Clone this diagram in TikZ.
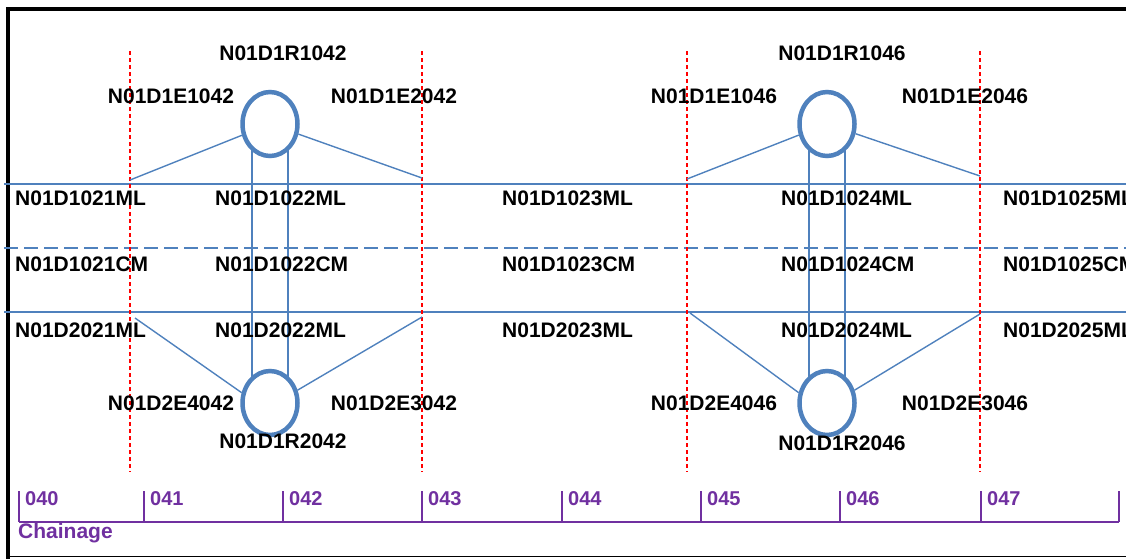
\documentclass[tikz,border=0pt]{standalone}
\usepackage{fontspec}
\setmainfont{Liberation Sans}
\usetikzlibrary{shapes.geometric,calc}
\definecolor{lblue}{RGB}{79,129,189}
\definecolor{cpurple}{RGB}{112,48,160}
\begin{document}
\begin{tikzpicture}[x=1pt,y=-1pt,
  lbl/.style={font=\fontsize{21}{24}\selectfont\bfseries, inner sep=0pt},
  rowlbl/.style={lbl, anchor=west},
  ring/.style={ellipse, draw=lblue, line width=4.5pt, fill=white, minimum width=55pt, minimum height=64pt, inner sep=0pt},
  wire/.style={lblue, line width=1.4pt},
  cmwire/.style={lblue, line width=1.4pt, dash pattern=on 14pt off 6pt},
  sect/.style={red, line width=1.3pt, dash pattern=on 4pt off 3pt},
  chain/.style={cpurple, line width=2.2pt},
  chlbl/.style={font=\fontsize{20}{24}\selectfont\bfseries, text=cpurple, inner sep=0pt, anchor=west},
  frameline/.style={black, line width=4pt}
]
\useasboundingbox (0,0) rectangle (1126,558);
\begin{scope}
\clip (0,0) rectangle (1126,558);

% frame
\draw[frameline] (1130,9) -- (8,9) -- (8,560);
\draw[black, line width=1.5pt] (8,556.5) -- (1130,556.5);

% coordinates for lines
\coordinate (h1l) at (4,184);  \coordinate (h1r) at (1130,184);
\coordinate (h2l) at (4,248);  \coordinate (h2r) at (1130,248);
\coordinate (h3l) at (4,312);  \coordinate (h3r) at (1130,312);

\foreach \i/\x in {1/130,2/422,3/687,4/980}{
  \coordinate (s\i t) at (\x,51);
  \coordinate (s\i b) at (\x,472);
}

% main lines
\draw[wire] (h1l) -- (h1r);
\draw[cmwire] (h2l) -- (h2r);
\draw[wire] (h3l) -- (h3r);

% vertical links between rings (behind rings)
\foreach \cx in {270,827}{
  \draw[wire] (\cx-18,124) -- (\cx-18,403);
  \draw[wire] (\cx+18,124) -- (\cx+18,403);
}

% rings
\node[ring] (r1) at (270,124) {};
\node[ring] (r2) at (270,403) {};
\node[ring] (r3) at (827,124) {};
\node[ring] (r4) at (827,403) {};

% section red lines
\foreach \i in {1,2,3,4}{
  \draw[sect] (s\i t) -- (s\i b);
}

% diagonal connectors
\coordinate (a1) at (130,180);
\coordinate (a2) at (422,178);
\coordinate (a3) at (135,318);
\coordinate (a4) at (422,317);
\coordinate (b1) at (687,179);
\coordinate (b2) at (980,176);
\coordinate (b3) at (690,313);
\coordinate (b4) at (980,314);
\draw[wire] (r1) -- (a1);
\draw[wire] (r1) -- (a2);
\draw[wire] (r2.160) -- (a3);
\draw[wire] (r2.25) -- (a4);
\draw[wire] (r3) -- (b1);
\draw[wire] (r3) -- (b2);
\draw[wire] (r4.160) -- (b3);
\draw[wire] (r4.25) -- (b4);

% ring labels
\node[lbl] (t1) at (283,53) {N01D1R1042};
\node[lbl] (t2) at (171,96) {N01D1E1042};
\node[lbl] (t3) at (394,96) {N01D1E2042};
\node[lbl] (t4) at (171,403) {N01D2E4042};
\node[lbl] (t5) at (394,403) {N01D2E3042};
\node[lbl] (t6) at (283,441) {N01D1R2042};
\node[lbl] (u1) at (842,53) {N01D1R1046};
\node[lbl] (u2) at (714,96) {N01D1E1046};
\node[lbl] (u3) at (965,96) {N01D1E2046};
\node[lbl] (u4) at (714,403) {N01D2E4046};
\node[lbl] (u5) at (965,403) {N01D2E3046};
\node[lbl] (u6) at (842,443) {N01D1R2046};

% row labels
\foreach \n/\x in {1/15,2/215,3/502,4/781,5/1003}{
  \node[rowlbl] (ml\n) at (\x,198) {N01D102\n ML};
  \node[rowlbl] (cm\n) at (\x,264) {N01D102\n CM};
  \node[rowlbl] (ml2\n) at (\x,330) {N01D202\n ML};
}

% chainage axis
\coordinate (c0) at (19,522);
\coordinate (c8) at (1119,522);
\draw[chain] (c0) -- (c8);
\foreach \tx in {19,144,283,422,562,701,840,981,1119}{
  \draw[chain] (\tx,491) -- (\tx,522);
}
\foreach \k/\tx/\lab in {0/19/040,1/144/041,2/283/042,3/422/043,4/562/044,5/701/045,6/840/046,7/981/047}{
  \node[chlbl] (ch\k) at (\tx+6,499) {\lab};
}
\node[font=\fontsize{21}{24}\selectfont\bfseries, text=cpurple, inner sep=0pt, anchor=base west] (chainage) at (18,538) {Chainage};
\end{scope}
\end{tikzpicture}
\end{document}
